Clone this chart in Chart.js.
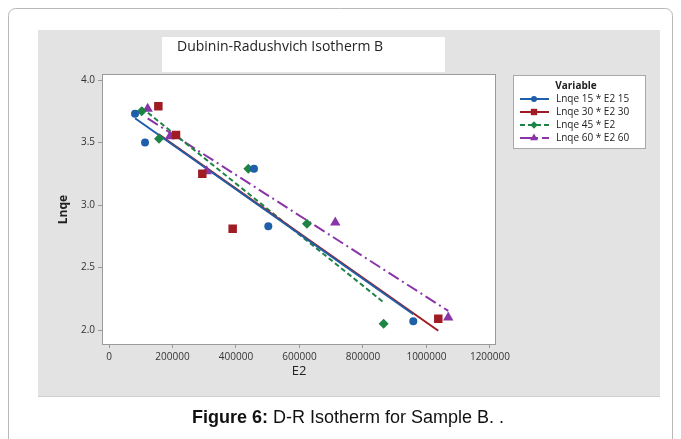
<!DOCTYPE html>
<html>
<head>
<meta charset="utf-8">
<style>
  html, body { margin: 0; padding: 0; background: #fff; }
  #wrap { width: 681px; height: 439px; }
</style>
</head>
<body>
<div id="wrap"><canvas id="c" width="681" height="439"></canvas></div>
<script src="https://cdn.jsdelivr.net/npm/chart.js@4/dist/chart.umd.min.js"></script>
<script>
// series
const seriesNames = ["Lnqe 15 * E2 15", "Lnqe 30 * E2 30", "Lnqe 45 * E2", "Lnqe 60 * E2 60"];

const e2_15 = [81900, 113400, 456700, 501800, 958500];
const lnqe_15 = [3.73, 3.50, 3.29, 2.83, 2.07];
const e2_30 = [155400, 211000, 293900, 389500, 1037300];
const lnqe_30 = [3.79, 3.56, 3.25, 2.81, 2.09];
const e2_45 = [102900, 157500, 438800, 623600, 865200];
const lnqe_45 = [3.75, 3.53, 3.29, 2.85, 2.05];
const e2_60 = [121800, 192100, 307600, 712800, 1068700];
const lnqe_60 = [3.77, 3.55, 3.27, 2.86, 2.10];

// fitted line ends (start / end)
const fitX_15 = [81900, 958500];
const fitY_15 = [3.694, 2.126];
const fitX_30 = [155400, 1037300];
const fitY_30 = [3.567, 1.994];
const fitX_45 = [102900, 865200];
const fitY_45 = [3.778, 2.221];
const fitX_60 = [121800, 1068700];
const fitY_60 = [3.693, 2.153];

const xTicks = [0, 200000, 400000, 600000, 800000, 1000000, 1200000];
const yTicks = [2.0, 2.5, 3.0, 3.5, 4.0];

const colors = ["#1f5ea8", "#a01c24", "#1e8446", "#8a34a8"];
const markers = ["circle", "rect", "rectRot", "triangle"];
const markerSize = [4, 6, 5, 6];
const dashes = [[], [], [5, 3], [12, 4, 2, 4]];

function pts(xs, ys) {
  return xs.map((x, i) => ({ x: x, y: ys[i] }));
}

const pointSets = [pts(e2_15, lnqe_15), pts(e2_30, lnqe_30), pts(e2_45, lnqe_45), pts(e2_60, lnqe_60)];
const fitSets = [pts(fitX_15, fitY_15), pts(fitX_30, fitY_30), pts(fitX_45, fitY_45), pts(fitX_60, fitY_60)];

const datasets = [];
fitSets.forEach((d, i) => {
  datasets.push({
    label: seriesNames[i] + " fit",
    data: d,
    showLine: true,
    borderColor: colors[i],
    borderWidth: 2,
    borderDash: dashes[i],
    pointRadius: 0,
    order: 2
  });
});
pointSets.forEach((d, i) => {
  datasets.push({
    label: seriesNames[i],
    data: d,
    showLine: false,
    pointStyle: markers[i],
    pointRadius: markerSize[i],
    pointBackgroundColor: colors[i],
    pointBorderColor: colors[i],
    pointBorderWidth: 0,
    order: 1
  });
});

function drawMarker(ctx, style, x, y, r) {
  ctx.beginPath();
  if (style === "circle") {
    ctx.arc(x, y, r, 0, Math.PI * 2);
  } else if (style === "rect") {
    const s = r * Math.SQRT1_2;
    ctx.rect(x - s, y - s, 2 * s, 2 * s);
  } else if (style === "rectRot") {
    ctx.moveTo(x, y - r); ctx.lineTo(x + r, y); ctx.lineTo(x, y + r); ctx.lineTo(x - r, y);
  } else {
    const h = r * 1.5;
    ctx.moveTo(x, y - h * 2 / 3); ctx.lineTo(x + r * 0.87, y + h / 3); ctx.lineTo(x - r * 0.87, y + h / 3);
  }
  ctx.closePath();
  ctx.fill();
}

const decor = {
  id: "decor",
  beforeDraw(chart) {
    const ctx = chart.ctx;
    const a = chart.chartArea;
    ctx.save();
    ctx.fillStyle = "#fff";
    ctx.fillRect(0, 0, chart.width, chart.height);
    // page frame
    ctx.strokeStyle = "#b8b8b8";
    ctx.lineWidth = 1;
    ctx.beginPath();
    ctx.roundRect(8.5, 8.5, 664, 445, 7);
    ctx.stroke();
    // grey panel
    ctx.fillStyle = "#e3e3e3";
    ctx.fillRect(38, 30, 622, 366);
    ctx.fillStyle = "#cfcfcf";
    ctx.fillRect(38, 396, 622, 1);
    // title box
    ctx.fillStyle = "#fff";
    ctx.fillRect(162, 37, 283, 35);
    ctx.fillStyle = "#222";
    ctx.font = '14px "Open Sans"';
    ctx.textBaseline = "middle";
    ctx.fillText("Dubinin-Radushvich Isotherm B", 177, 47);
    // plot area
    ctx.fillStyle = "#fff";
    ctx.fillRect(a.left, a.top, a.right - a.left, a.bottom - a.top);
    // caption
    ctx.fillStyle = "#111";
    ctx.font = 'bold 18px "Liberation Sans"';
    ctx.textBaseline = "middle";
    const lead = "Figure 6:";
    ctx.fillText(lead, 192, 418);
    const w = ctx.measureText(lead).width;
    ctx.font = '18px "Liberation Sans"';
    ctx.fillText(" D-R Isotherm for Sample B. .", 192 + w, 418);
    ctx.restore();
  },
  afterDraw(chart) {
    const ctx = chart.ctx;
    const a = chart.chartArea;
    ctx.save();
    ctx.strokeStyle = "#9a9a9a";
    ctx.lineWidth = 1;
    ctx.strokeRect(a.left - 0.5, a.top - 0.5, a.right - a.left + 1, a.bottom - a.top + 1);
    // legend
    ctx.fillStyle = "#fff";
    ctx.fillRect(513, 75, 132, 73);
    ctx.strokeStyle = "#a8a8a8";
    ctx.strokeRect(513.5, 75.5, 132, 73);
    ctx.fillStyle = "#222";
    ctx.font = 'bold 10px "Open Sans"';
    ctx.textAlign = "center";
    ctx.textBaseline = "middle";
    ctx.fillText("Variable", 576, 86);
    ctx.textAlign = "left";
    ctx.font = '10px "Open Sans"';
    const rowY = [99, 112, 125, 138];
    seriesNames.forEach((name, i) => {
      const y = rowY[i];
      ctx.strokeStyle = colors[i];
      ctx.lineWidth = 2;
      ctx.setLineDash(dashes[i]);
      ctx.beginPath();
      ctx.moveTo(520, y);
      ctx.lineTo(549, y);
      ctx.stroke();
      ctx.setLineDash([]);
      ctx.fillStyle = colors[i];
      drawMarker(ctx, markers[i], 534, y, markerSize[i] * 0.75);
      ctx.fillStyle = "#222";
      ctx.fillText(name, 556, y);
    });
    ctx.restore();
  }
};

const tickFont = { family: "Open Sans", size: 10 };

new Chart(document.getElementById("c"), {
  type: "scatter",
  data: { datasets: datasets },
  options: {
    responsive: false,
    devicePixelRatio: 1,
    animation: false,
    layout: { padding: { left: 38, top: 75, right: 186, bottom: 0 } },
    plugins: { legend: { display: false }, tooltip: { enabled: false } },
    scales: {
      x: {
        type: "linear",
        min: -19000,
        max: 1216000,
        afterBuildTicks: (s) => { s.ticks = xTicks.map((v) => ({ value: v })); },
        afterFit: (s) => { s.height = 95; },
        ticks: { font: tickFont, color: "#333", padding: 3, maxRotation: 0, callback: (v) => String(v) },
        grid: { drawOnChartArea: false, drawTicks: true, tickLength: 4, color: "#999" },
        border: { display: false },
        title: { display: true, text: "E2", color: "#222", font: { family: "Open Sans", size: 13 }, padding: { top: 0, bottom: 60 } }
      },
      y: {
        type: "linear",
        min: 1.888,
        max: 4.04,
        afterBuildTicks: (s) => { s.ticks = yTicks.map((v) => ({ value: v })); },
        afterFit: (s) => { s.width = 65; },
        ticks: { font: tickFont, color: "#333", padding: 3, callback: (v) => v.toFixed(1) },
        grid: { drawOnChartArea: false, drawTicks: true, tickLength: 5, color: "#999" },
        border: { display: false },
        title: { display: true, text: "Lnqe", color: "#222", font: { family: "Open Sans", size: 12, weight: "bold" }, padding: { top: 18, bottom: 0 } }
      }
    }
  },
  plugins: [decor]
});
</script>
</body>
</html>
